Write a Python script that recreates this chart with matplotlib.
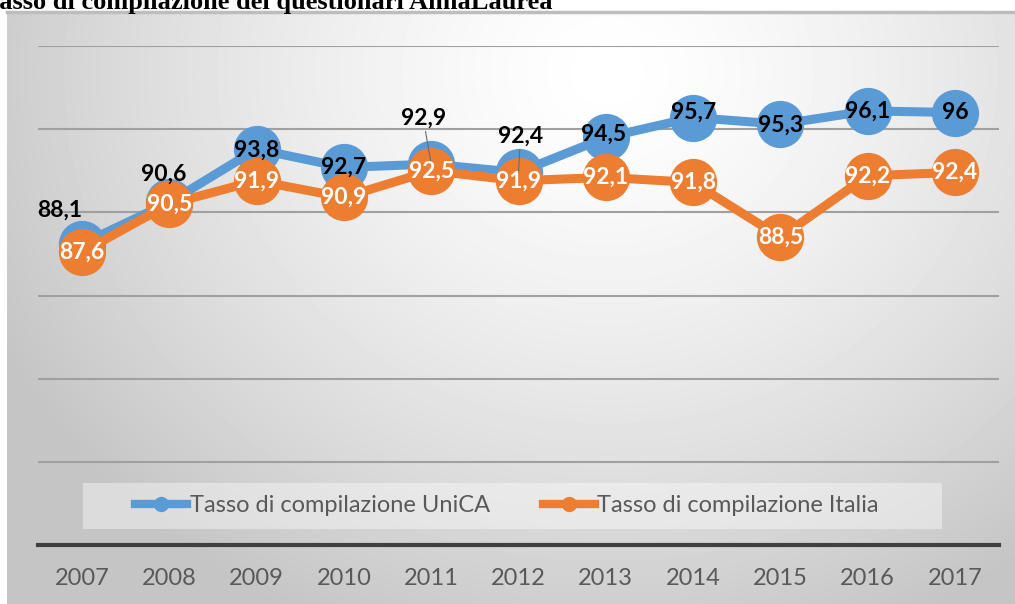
import numpy as np
import matplotlib.pyplot as plt
from matplotlib.lines import Line2D
from matplotlib.patches import Rectangle

plt.rcParams['font.family'] = ['Lato', 'DejaVu Sans']

# dati
anni = ['2007', '2008', '2009', '2010', '2011', '2012', '2013', '2014', '2015', '2016', '2017']
unica = [88.1, 90.6, 93.8, 92.7, 92.9, 92.4, 94.5, 95.7, 95.3, 96.1, 96]
italia = [87.6, 90.5, 91.9, 90.9, 92.5, 91.9, 92.1, 91.8, 88.5, 92.2, 92.4]
nome_unica = 'Tasso di compilazione UniCA'
nome_italia = 'Tasso di compilazione Italia'
titolo = 'Tasso di compilazione dei questionari AlmaLaurea'

# spostamenti delle etichette (pixel) e linee guida
off_unica = [(-22, 34), (-6, 28), (0, -1), (0, 0), (-8, 46), (2, 36),
             (-2, 3), (0, 5), (0, -1), (0, 0), (0, 0)]
guida_unica = [False, False, False, False, True, True, False, False, False, False, False]

BLU = '#5B9BD5'
ARANCIO = '#ED7D31'

W, H = 1015, 604
fig = plt.figure(figsize=(W / 100, H / 100), dpi=100)


def fmt(v):
    return f'{v:g}'.replace('.', ',')


# sfondo sfumato del grafico
bg = fig.add_axes([7 / W, 0, 1 - 7 / W, (H - 12) / H], zorder=-1)
yy, xx = np.mgrid[0:592, 0:1008]
d = np.hypot((xx - 600) / 1.0, (yy - 60) / 0.9) / 680
sfondo = 1 - 0.23 * np.clip(d, 0, 1) ** 1.4
bg.imshow(sfondo, cmap='gray', vmin=0, vmax=1, aspect='auto', interpolation='bilinear')
bg.axis('off')
bg.add_line(Line2D([0, 1], [1, 1], transform=bg.transAxes, color='#bdbdbd', lw=2.5, clip_on=False))

# assi principali
ax = fig.add_axes([38.35 / W, 59 / H, 960.3 / W, 499 / H], zorder=1)
ax.patch.set_alpha(0)
x = np.arange(len(anni))

ax.plot(x, unica, color=BLU, lw=6.5, marker='o', ms=33, zorder=3)
ax.plot(x, italia, color=ARANCIO, lw=6.5, marker='o', ms=33, zorder=4)

for i, v in enumerate(unica):
    dx, dy = off_unica[i]
    kw = {}
    if guida_unica[i]:
        kw['arrowprops'] = dict(arrowstyle='-', color='#6b6b6b', lw=0.8, shrinkA=0, shrinkB=0)
    ax.annotate(fmt(v), (x[i], v), xytext=(dx * 0.72, dy * 0.72), textcoords='offset points',
                ha='center', va='center', fontsize=16.5, fontweight='bold', color='black',
                zorder=6, **kw)

for i, v in enumerate(italia):
    ax.annotate(fmt(v), (x[i], v), xytext=(0, 0), textcoords='offset points',
                ha='center', va='center', fontsize=16.5, fontweight='bold', color='white',
                zorder=6)

ax.set_xlim(-0.5, 10.5)
ax.set_ylim(70, 100)
ax.set_yticks(range(70, 101, 5))
ax.set_xticks(x, anni)
ax.tick_params(axis='y', length=0, labelleft=False)
ax.tick_params(axis='x', length=0, pad=16.5, labelsize=17, labelcolor='#595959')
ax.grid(axis='y', color='#a0a0a0', lw=1.5)
ax.set_axisbelow(True)
for s in ['top', 'left', 'right']:
    ax.spines[s].set_visible(False)
ax.spines['bottom'].set_color('#404040')
ax.spines['bottom'].set_linewidth(3)
ax.spines['bottom'].set_zorder(5)

# legenda
ax.add_patch(Rectangle((83 / W, (H - 529) / H), 859 / W, 46 / H, transform=fig.transFigure,
                       facecolor='white', alpha=0.4, edgecolor='none', zorder=1, clip_on=False))
maniglie = [Line2D([], [], color=BLU, lw=6, marker='o', ms=10),
            Line2D([], [], color=ARANCIO, lw=6, marker='o', ms=10)]
leg = ax.legend(maniglie, [nome_unica, nome_italia], loc='center',
                bbox_to_anchor=(507 / W, (H - 506) / H), bbox_transform=fig.transFigure,
                ncol=2, frameon=False, fontsize=17, labelcolor='#595959',
                handlelength=2.2, handletextpad=0.1, columnspacing=2.25)
leg.set_zorder(7)

# titolo (tagliato in alto come nell'originale)
fig.text(553 / W, 1 - 9 / H, titolo, ha='right', va='baseline',
         fontfamily='Liberation Serif', fontweight='bold', fontsize=19)

fig.savefig('out.png', dpi=100)
